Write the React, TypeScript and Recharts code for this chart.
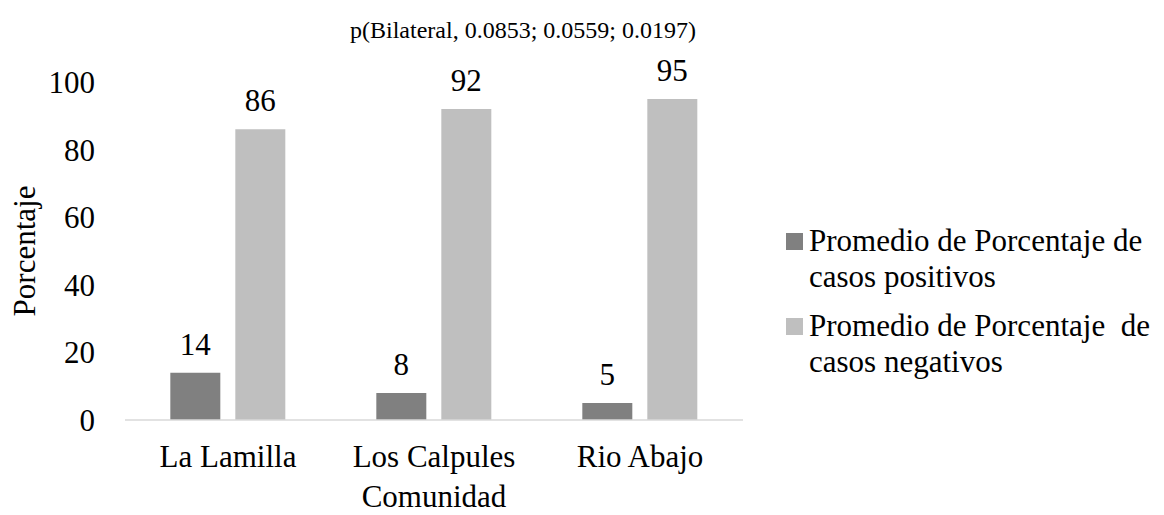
import { Bar, BarChart, LabelList, Legend, XAxis, YAxis } from 'recharts';

const communities = ['La Lamilla', 'Los Calpules', 'Rio Abajo'];
const positiveCases = [14, 8, 5];
const negativeCases = [86, 92, 95];
const yTicks = [0, 20, 40, 60, 80, 100];

const POSITIVE_NAME = 'Promedio de Porcentaje de casos positivos';
const NEGATIVE_NAME = 'Promedio de Porcentaje  de casos negativos';
const POSITIVE_COLOR = '#808080';
const NEGATIVE_COLOR = '#bfbfbf';
const FONT = '"Liberation Serif", "Times New Roman", serif';

const data = communities.map((name, i) => ({
  name,
  positive: positiveCases[i],
  negative: negativeCases[i],
}));

const legendItems = [
  { label: POSITIVE_NAME, color: POSITIVE_COLOR },
  { label: NEGATIVE_NAME, color: NEGATIVE_COLOR },
];

function ChartLegend() {
  return (
    <div style={{ fontFamily: FONT, fontSize: 31, color: '#000', lineHeight: '36px', textAlign: 'left' }}>
      {legendItems.map((item) => (
        <div key={item.label} style={{ display: 'flex', alignItems: 'flex-start', marginBottom: 13 }}>
          <span
            style={{
              width: 17,
              height: 17,
              backgroundColor: item.color,
              marginTop: 10,
              marginRight: 6,
              flexShrink: 0,
            }}
          />
          <span style={{ whiteSpace: 'pre-wrap', width: 372 }}>{item.label}</span>
        </div>
      ))}
    </div>
  );
}

export default function App() {
  const tick = { fill: '#000', fontSize: 31, fontFamily: FONT };
  return (
    <div style={{ position: 'absolute', left: 0, top: 0, width: 1164, height: 515, background: '#fff', overflow: 'hidden' }}>
      <div
        style={{
          position: 'absolute',
          left: 0,
          width: 1046,
          top: 17,
          textAlign: 'center',
          fontFamily: FONT,
          fontSize: 24,
          lineHeight: 'normal',
          color: '#000',
          whiteSpace: 'nowrap',
        }}
      >
        p(Bilateral, 0.0853; 0.0559; 0.0197)
      </div>
      <BarChart
        width={1164}
        height={515}
        data={data}
        margin={{ top: 82, right: 421, bottom: 0, left: 0 }}
        barCategoryGap="22%"
        barGap={15}
      >
        <XAxis
          dataKey="name"
          tickLine={false}
          axisLine={{ stroke: '#d9d9d9', strokeWidth: 1.5 }}
          tick={tick}
          tickMargin={19}
          height={95}
          label={{ value: 'Comunidad', position: 'insideBottom', offset: 8, style: tick }}
        />
        <YAxis
          domain={[0, 100]}
          ticks={yTicks}
          tickLine={false}
          axisLine={false}
          tick={tick}
          tickMargin={24}
          width={125}
          label={{ value: 'Porcentaje', angle: -90, position: 'insideLeft', offset: 24, style: { ...tick, textAnchor: 'middle' } }}
        />
        <Legend
          layout="horizontal"
          align="center"
          verticalAlign="middle"
          wrapperStyle={{ left: 786, top: 223, width: 378 }}
          content={() => <ChartLegend />}
        />
        <Bar dataKey="positive" name={POSITIVE_NAME} fill={POSITIVE_COLOR} isAnimationActive={false}>
          <LabelList dataKey="positive" position="top" offset={18} style={tick} />
        </Bar>
        <Bar dataKey="negative" name={NEGATIVE_NAME} fill={NEGATIVE_COLOR} isAnimationActive={false}>
          <LabelList dataKey="negative" position="top" offset={18} style={tick} />
        </Bar>
      </BarChart>
    </div>
  );
}
